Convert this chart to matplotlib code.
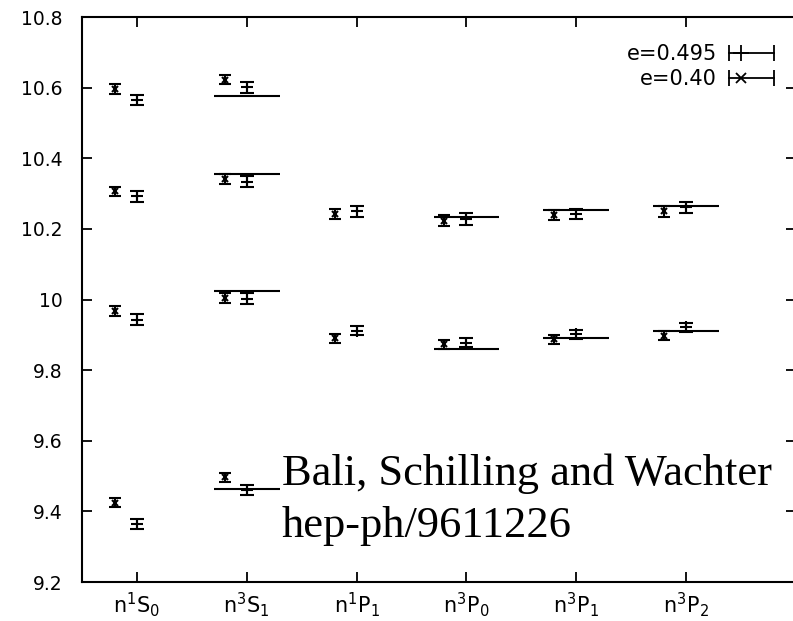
import matplotlib
matplotlib.use('Agg')
import matplotlib.pyplot as plt
import numpy as np
from matplotlib.ticker import FuncFormatter
from matplotlib.legend_handler import HandlerBase
from matplotlib.lines import Line2D

plt.rcParams['font.family'] = ['DejaVu Sans']
plt.rcParams['font.size'] = 13.5

# states along x
labels = [r'$\mathregular{n^1S_0}$', r'$\mathregular{n^3S_1}$', r'$\mathregular{n^1P_1}$',
          r'$\mathregular{n^3P_0}$', r'$\mathregular{n^3P_1}$', r'$\mathregular{n^3P_2}$']
cat_pos = [1, 2, 3, 4, 5, 6]

# lattice masses, e=0.40 (x points)
e40_cat = [1, 1, 1, 1, 2, 2, 2, 2, 3, 3, 4, 4, 5, 5, 6, 6]
e40_val = [10.596, 10.306, 9.967, 9.425, 10.622, 10.341, 10.005, 9.496,
           10.242, 9.890, 10.223, 9.873, 10.240, 9.887, 10.250, 9.898]
e40_err = [0.013, 0.014, 0.014, 0.014, 0.013, 0.014, 0.014, 0.014,
           0.015, 0.012, 0.015, 0.012, 0.014, 0.012, 0.015, 0.012]

# lattice masses, e=0.495 (+ points)
e495_cat = [1, 1, 1, 1, 2, 2, 2, 2, 3, 3, 4, 4, 5, 5, 6, 6]
e495_val = [10.565, 10.292, 9.943, 9.364, 10.601, 10.334, 10.002, 9.461,
            10.250, 9.912, 10.228, 9.878, 10.243, 9.901, 10.261, 9.921]
e495_err = [0.015, 0.015, 0.016, 0.015, 0.015, 0.015, 0.015, 0.015,
            0.016, 0.013, 0.016, 0.013, 0.014, 0.013, 0.015, 0.013]

# experimental levels (horizontal lines)
exp_cat = [2, 2, 2, 2, 4, 4, 5, 5, 6, 6]
exp_val = [10.577, 10.355, 10.023, 9.463, 10.234, 9.859, 10.254, 9.890, 10.266, 9.910]


class GnuKey(HandlerBase):
    # gnuplot style key: horizontal bar with end caps, point near the left
    def create_artists(self, legend, orig_handle, xdescent, ydescent,
                       width, height, fontsize, trans):
        y = (height - ydescent) / 2
        x0, x1 = -xdescent, -xdescent + width
        bar = Line2D([x0, x1], [y, y], color='black', lw=1.3, transform=trans)
        caps = Line2D([x0, x1], [y, y], ls='none', marker='|', ms=11, mew=1.3,
                      color='black', transform=trans)
        pt = Line2D([x0 + 0.27 * width], [y], ls='none', marker=orig_handle.get_marker(),
                    ms=orig_handle.get_markersize() + 2, mew=1.3, color='black', transform=trans)
        return [bar, caps, pt]


fig = plt.figure(figsize=(7.93, 6.21), dpi=100)
ax = fig.add_axes([82/793, 1 - 582/621, 714/793, 565/621])

shift = 0.2   # x points sit a bit left of the tick
half = 0.3    # half width of experimental line

c40 = ax.errorbar(np.array(e40_cat) - shift, e40_val, yerr=e40_err, fmt='x', color='black',
                  markersize=5, mew=1.5, elinewidth=1.5, capsize=4.3, capthick=1.8)
c495 = ax.errorbar(e495_cat, e495_val, yerr=e495_err, fmt='+', color='black',
                   markersize=9, mew=1.5, elinewidth=1.5, capsize=4.8, capthick=1.8)
ax.hlines(exp_val, np.array(exp_cat) - half, np.array(exp_cat) + half,
          color='black', linewidth=1.5)

leg = ax.legend([c495[0], c40[0]], ['e=0.495', 'e=0.40'], loc='upper right',
                bbox_to_anchor=((774 - 82) / 714, (582 - 44) / 565),
                frameon=False, markerfirst=False, borderpad=0, borderaxespad=0,
                fontsize=15, handlelength=2.15, handletextpad=0.6, labelspacing=0.25,
                handler_map={Line2D: GnuKey()})

ax.text((282 - 82) / 714, (582 - 485) / 565, 'Bali, Schilling and Wachter',
        transform=ax.transAxes, family='Liberation Serif', fontsize=32, va='baseline')
ax.text((282 - 82) / 714, (582 - 537) / 565, 'hep-ph/9611226',
        transform=ax.transAxes, family='Liberation Serif', fontsize=32, va='baseline')

ax.set_xlim(0.5, 7.0)
ax.set_ylim(9.2, 10.8)
ax.set_xticks(cat_pos)
ax.set_xticklabels(labels, fontsize=15)
ax.set_yticks(np.arange(9.2, 10.81, 0.2))
ax.yaxis.set_major_formatter(FuncFormatter(lambda v, p: '%g' % round(v, 1)))
ax.tick_params(direction='in', top=True, right=True, length=7, width=1.3)
ax.tick_params(axis='y', pad=14)
ax.tick_params(axis='x', pad=6)
for s in ax.spines.values():
    s.set_linewidth(1.5)

fig.savefig('out.png', dpi=100)
